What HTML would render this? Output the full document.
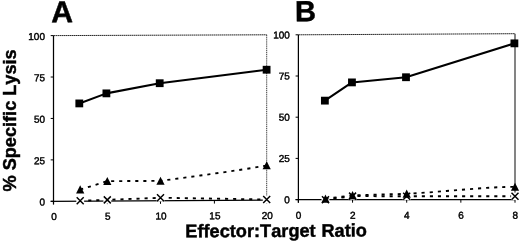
<!DOCTYPE html>
<html><head><meta charset="utf-8"><title>Specific Lysis</title>
<style>
html,body{margin:0;padding:0;background:#fff;}
body{width:520px;height:242px;overflow:hidden;}
svg{display:block;}
text{font-family:"Liberation Sans",Arial,Helvetica,sans-serif;fill:#000;font-kerning:none;}
.t{font-size:10px;stroke:#000;stroke-width:0.42px;}
.b{font-weight:bold;stroke:#000;stroke-width:0.45px;}
</style></head>
<body>
<svg width="520" height="242" viewBox="0 0 520 242">
<rect width="520" height="242" fill="#fff"/>
<path d="M53.5 35.6 L266.7 34.8" fill="none" stroke="#262626" stroke-width="1" stroke-dasharray="1.6 0.4"/>
<path d="M266.7 34.8 L266.7 200.2" fill="none" stroke="#333" stroke-width="0.95" stroke-dasharray="1.2 0.7"/>
<path d="M53.5 35.6 L53.5 204.4" fill="none" stroke="#000" stroke-width="1.25"/>
<path d="M50.7 201.3 L266.7 200.2" fill="none" stroke="#000" stroke-width="1.25"/>
<path d="M50.7 201.3 L53.5 201.3" stroke="#000" stroke-width="1"/>
<text x="45" y="205.6" text-anchor="end" class="t" transform="rotate(-0.27 45 205.6)">0</text>
<path d="M50.7 159.88 L53.5 159.88" stroke="#000" stroke-width="1"/>
<text x="45" y="164.18" text-anchor="end" class="t" transform="rotate(-0.27 45 164.18)">25</text>
<path d="M50.7 118.45 L53.5 118.45" stroke="#000" stroke-width="1"/>
<text x="45" y="122.75" text-anchor="end" class="t" transform="rotate(-0.27 45 122.75)">50</text>
<path d="M50.7 77.02 L53.5 77.02" stroke="#000" stroke-width="1"/>
<text x="45" y="81.32" text-anchor="end" class="t" transform="rotate(-0.27 45 81.32)">75</text>
<path d="M50.7 35.6 L53.5 35.6" stroke="#000" stroke-width="1"/>
<text x="45" y="39.9" text-anchor="end" class="t" transform="rotate(-0.27 45 39.9)">100</text>
<path d="M53.5 201.3 L53.5 204.4" stroke="#000" stroke-width="1"/>
<text x="54" y="220.1" text-anchor="middle" class="t" transform="rotate(-0.27 54 220.1)">0</text>
<path d="M107.3 201.03 L107.3 204.12" stroke="#000" stroke-width="1"/>
<text x="107.8" y="219.83" text-anchor="middle" class="t" transform="rotate(-0.27 107.8 219.83)">5</text>
<path d="M160.5 200.75 L160.5 203.85" stroke="#000" stroke-width="1"/>
<text x="161" y="219.55" text-anchor="middle" class="t" transform="rotate(-0.27 161 219.55)">10</text>
<path d="M214.4 200.47 L214.4 203.57" stroke="#000" stroke-width="1"/>
<text x="214.9" y="219.28" text-anchor="middle" class="t" transform="rotate(-0.27 214.9 219.28)">15</text>
<path d="M266.7 200.2 L266.7 203.3" stroke="#000" stroke-width="1"/>
<text x="267.2" y="219" text-anchor="middle" class="t" transform="rotate(-0.27 267.2 219)">20</text>
<path d="M298.4 34.8 L515 33.7" fill="none" stroke="#262626" stroke-width="1" stroke-dasharray="1.6 0.4"/>
<path d="M515 33.7 L515 199.6" fill="none" stroke="#151515" stroke-width="1.05"/>
<path d="M298.4 34.8 L298.4 202.7" fill="none" stroke="#000" stroke-width="1.25"/>
<path d="M295.6 199.6 L515 199.6" fill="none" stroke="#000" stroke-width="1.25"/>
<path d="M295.6 199.6 L298.4 199.6" stroke="#000" stroke-width="1"/>
<text x="289.9" y="203.2" text-anchor="end" class="t" transform="rotate(-0.27 289.9 203.2)">0</text>
<path d="M295.6 158.4 L298.4 158.4" stroke="#000" stroke-width="1"/>
<text x="289.9" y="162" text-anchor="end" class="t" transform="rotate(-0.27 289.9 162)">25</text>
<path d="M295.6 117.2 L298.4 117.2" stroke="#000" stroke-width="1"/>
<text x="289.9" y="120.8" text-anchor="end" class="t" transform="rotate(-0.27 289.9 120.8)">50</text>
<path d="M295.6 76 L298.4 76" stroke="#000" stroke-width="1"/>
<text x="289.9" y="79.6" text-anchor="end" class="t" transform="rotate(-0.27 289.9 79.6)">75</text>
<path d="M295.6 34.8 L298.4 34.8" stroke="#000" stroke-width="1"/>
<text x="289.9" y="38.4" text-anchor="end" class="t" transform="rotate(-0.27 289.9 38.4)">100</text>
<path d="M298.4 199.6 L298.4 202.7" stroke="#000" stroke-width="1"/>
<text x="298.6" y="218.8" text-anchor="middle" class="t" transform="rotate(-0.27 298.6 218.8)">0</text>
<path d="M352.55 199.6 L352.55 202.7" stroke="#000" stroke-width="1"/>
<text x="352.75" y="218.8" text-anchor="middle" class="t" transform="rotate(-0.27 352.75 218.8)">2</text>
<path d="M406.7 199.6 L406.7 202.7" stroke="#000" stroke-width="1"/>
<text x="406.9" y="218.8" text-anchor="middle" class="t" transform="rotate(-0.27 406.9 218.8)">4</text>
<path d="M460.85 199.6 L460.85 202.7" stroke="#000" stroke-width="1"/>
<text x="461.05" y="218.8" text-anchor="middle" class="t" transform="rotate(-0.27 461.05 218.8)">6</text>
<path d="M515 199.6 L515 202.7" stroke="#000" stroke-width="1"/>
<text x="515.2" y="218.8" text-anchor="middle" class="t" transform="rotate(-0.27 515.2 218.8)">8</text>
<path d="M80.2 200.83 L107.3 199.87 L160.5 197.77 L266.7 199.46" fill="none" stroke="#000" stroke-width="1.85" stroke-dasharray="3.1 4.95"/>
<rect x="76.3" y="197.13" width="7.8" height="7.4" fill="#fff"/>
<path d="M76.7 197.33 L83.7 204.33 M76.7 204.33 L83.7 197.33" fill="none" stroke="#000" stroke-width="1.45"/>
<rect x="103.4" y="196.17" width="7.8" height="7.4" fill="#fff"/>
<path d="M103.8 196.37 L110.8 203.37 M103.8 203.37 L110.8 196.37" fill="none" stroke="#000" stroke-width="1.45"/>
<rect x="156.6" y="194.07" width="7.8" height="7.4" fill="#fff"/>
<path d="M157 194.27 L164 201.27 M157 201.27 L164 194.27" fill="none" stroke="#000" stroke-width="1.45"/>
<rect x="262.8" y="195.76" width="7.8" height="7.4" fill="#fff"/>
<path d="M263.2 195.96 L270.2 202.96 M263.2 202.96 L270.2 195.96" fill="none" stroke="#000" stroke-width="1.45"/>
<path d="M80.2 189.57 L107.3 181.15 L160.5 180.88 C195.55 176.1 234.84 171.17 266.7 165.47" fill="none" stroke="#000" stroke-width="1.85" stroke-dasharray="3.1 4.95"/>
<path d="M80.2 185.37 L84.3 193.47 L76.1 193.47 Z" fill="#000"/>
<path d="M107.3 176.95 L111.4 185.05 L103.2 185.05 Z" fill="#000"/>
<path d="M160.5 176.68 L164.6 184.78 L156.4 184.78 Z" fill="#000"/>
<path d="M266.7 161.27 L270.8 169.37 L262.6 169.37 Z" fill="#000"/>
<path d="M79.3 103.42 L106.4 93.37 L159.7 83.21 L266.6 69.73" fill="none" stroke="#000" stroke-width="2.05" stroke-linejoin="round"/>
<rect x="75.4" y="99.52" width="7.8" height="7.8" fill="#000"/>
<rect x="102.5" y="89.47" width="7.8" height="7.8" fill="#000"/>
<rect x="155.8" y="79.31" width="7.8" height="7.8" fill="#000"/>
<rect x="262.7" y="65.83" width="7.8" height="7.8" fill="#000"/>
<path d="M325.47 199.76 L352.55 196.13 L406.7 196.29 L515 196.28" fill="none" stroke="#000" stroke-width="1.85" stroke-dasharray="3.1 4.95"/>
<rect x="321.57" y="196.06" width="7.8" height="7.4" fill="#fff"/>
<path d="M321.97 196.26 L328.97 203.26 M321.97 203.26 L328.97 196.26" fill="none" stroke="#000" stroke-width="1.45"/>
<rect x="348.65" y="192.43" width="7.8" height="7.4" fill="#fff"/>
<path d="M349.05 192.63 L356.05 199.63 M349.05 199.63 L356.05 192.63" fill="none" stroke="#000" stroke-width="1.45"/>
<rect x="402.8" y="192.59" width="7.8" height="7.4" fill="#fff"/>
<path d="M403.2 192.79 L410.2 199.79 M403.2 199.79 L410.2 192.79" fill="none" stroke="#000" stroke-width="1.45"/>
<rect x="511.1" y="192.58" width="7.8" height="7.4" fill="#fff"/>
<path d="M511.5 192.78 L518.5 199.78 M511.5 199.78 L518.5 192.78" fill="none" stroke="#000" stroke-width="1.45"/>
<path d="M325.47 198.78 L352.55 195.31 L406.7 193.81 C442.44 191.93 487.93 186.69 515 186.83" fill="none" stroke="#000" stroke-width="1.85" stroke-dasharray="3.1 4.95"/>
<path d="M325.47 194.58 L329.57 202.68 L321.37 202.68 Z" fill="#000"/>
<path d="M352.55 191.11 L356.65 199.21 L348.45 199.21 Z" fill="#000"/>
<path d="M406.7 189.61 L410.8 197.71 L402.6 197.71 Z" fill="#000"/>
<path d="M515 182.63 L519.1 190.73 L510.9 190.73 Z" fill="#000"/>
<path d="M324.87 100.64 L351.95 82.4 L406 77.24 L514.4 43.35" fill="none" stroke="#000" stroke-width="2.05" stroke-linejoin="round"/>
<rect x="320.97" y="96.74" width="7.8" height="7.8" fill="#000"/>
<rect x="348.05" y="78.5" width="7.8" height="7.8" fill="#000"/>
<rect x="402.1" y="73.34" width="7.8" height="7.8" fill="#000"/>
<rect x="510.5" y="39.45" width="7.8" height="7.8" fill="#000"/>
<text x="51.3" y="22.3" class="b" font-size="30.2" transform="rotate(-0.27 51 22)">A</text>
<text x="295.1" y="21.3" class="b" font-size="29.2" transform="rotate(-0.27 295 21)">B</text>
<text class="b" font-size="18.15" transform="translate(15.6 191.5) rotate(-90)">% Specific Lysis</text>
<text class="b" font-size="18.2" word-spacing="0.7" transform="translate(185.3 237.3) rotate(-0.25)">Effector:Target Ratio</text>
</svg>
</body></html>
